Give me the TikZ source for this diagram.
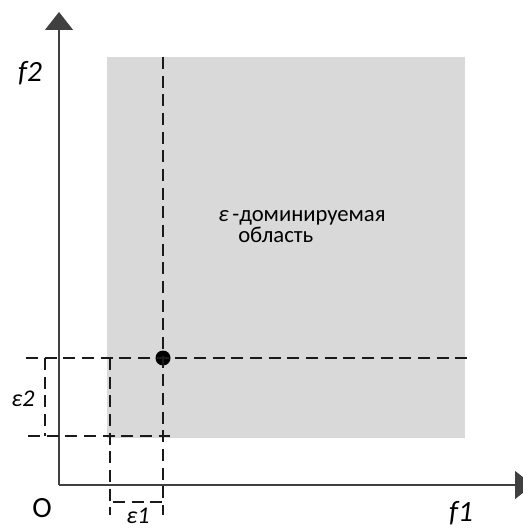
\documentclass[tikz,border=0pt]{standalone}
\usepackage{fontspec}
\setmainfont{Carlito}
\usepackage{xcolor}
\definecolor{cAxis}{HTML}{404040}
\definecolor{cRegion}{HTML}{D9D9D9}
\definecolor{cDash}{HTML}{1A1A1A}
\usetikzlibrary{arrows.meta}
\tikzset{
  axis-line/.style={draw=cAxis,line width=0.9pt,
    -{Triangle[length=13.5pt,width=21pt]}},
  guide-line/.style={draw=cDash,line width=1pt,dash pattern=on 9pt off 5pt},
  axis-label/.style={font=\fontsize{22}{24}\selectfont\itshape,inner sep=0pt},
  eps-label/.style={font=\fontsize{18}{20}\selectfont\itshape,inner sep=0pt},
  region-text/.style={font=\fontsize{17}{19}\selectfont,inner sep=0pt},
  node-point/.style={circle,fill=black,minimum size=11.25pt,inner sep=0pt},
}

\begin{document}
\begin{tikzpicture}[x=0.75pt,y=-0.75pt]
  \useasboundingbox (0,0) rectangle (522,530);
  % epsilon-dominated region
  \fill[cRegion] (107,57) rectangle (465,438);

  % axes
  \coordinate (origin) at (59,485);
  \coordinate (ytip) at (59,12);
  \coordinate (xtip) at (533,485);
  \draw[axis-line] (origin) -- (ytip);
  \draw[axis-line] (origin) -- (xtip);

  % point and its guides
  \node[node-point] (pt) at (163,358) {};
  \coordinate (pt-top) at (163,57);
  \coordinate (pt-bot) at (163,515);
  \coordinate (pt-left) at (26,358);
  \coordinate (pt-right) at (467,358);
  \coordinate (lo-left) at (28,436);
  \coordinate (lo-right) at (170,436);
  \coordinate (lf-top) at (110,358);
  \coordinate (lf-bot) at (110,515);
  \draw[guide-line] (pt-top) -- (pt-bot);
  \draw[guide-line] (pt-left) -- (pt-right);
  \draw[guide-line] (lo-left) -- (lo-right);
  \draw[guide-line] (lf-top) -- (lf-bot);

  % epsilon brackets
  \coordinate (e2-top) at (45,358);
  \coordinate (e2-bot) at (45,436);
  \coordinate (e1-left) at (113,502);
  \coordinate (e1-right) at (163,502);
  \draw[guide-line] (e2-top) -- (e2-bot);
  \draw[guide-line] (e1-left) -- (e1-right);

  % labels
  \node[axis-label] (f2) at (30,73) {f2};
  \node[axis-label] (f1) at (461,513) {f1};
  \node[font=\fontsize{22}{24}\selectfont,inner sep=0pt] (o) at (42,508) {O};
  \node[eps-label] (e1) at (138,516) {ε1};
  \node[eps-label] (e2) at (23,399) {ε2};
  \node[region-text,anchor=base west] (dom) at (218,222) {{\itshape ε}\,-доминируемая};
  \node[region-text,anchor=base west] (area) at (238,243) {область};
\end{tikzpicture}
\end{document}
